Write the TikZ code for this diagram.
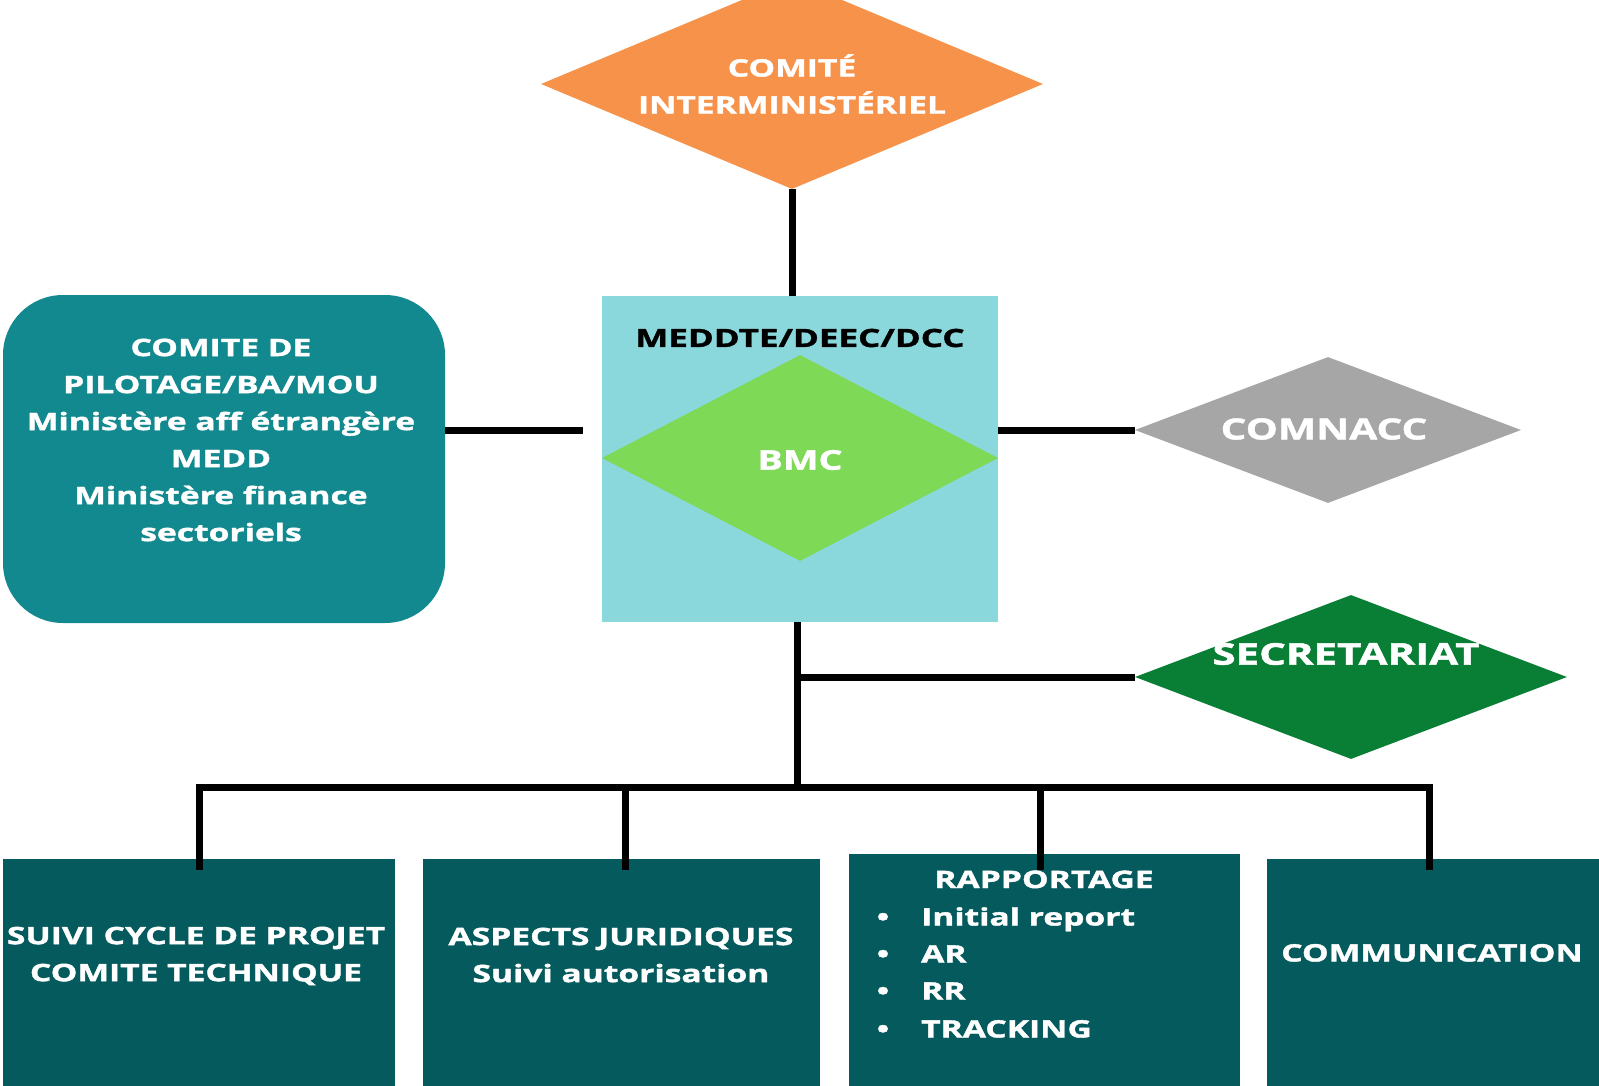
\documentclass[tikz,border=0pt]{standalone}
\usepackage{fontspec}
\setmainfont{Open Sans}[FakeStretch=1.4, BoldFeatures={FakeBold=1.6}]
\usetikzlibrary{shapes.geometric}
\definecolor{corange}{HTML}{F7924A}
\definecolor{clblue}{HTML}{8AD8DC}
\definecolor{clgreen}{HTML}{7ED957}
\definecolor{cteal}{HTML}{12898E}
\definecolor{cgray}{HTML}{A6A6A6}
\definecolor{cdgreen}{HTML}{087F35}
\definecolor{cdteal}{HTML}{045A5C}
\begin{document}
\begin{tikzpicture}[x=1pt,y=-1pt,
  conn/.style={line width=7pt, black},
  txt/.style={text=white, font=\fontsize{24}{37}\selectfont\bfseries, align=center, inner sep=0pt},
  bigtxt/.style={txt, font=\fontsize{29}{36}\selectfont\bfseries},
  dia/.style={diamond, inner sep=0pt, draw=none, aspect=1},
  boxb/.style={rectangle, inner sep=0pt, draw=none, fill=cdteal, anchor=north west}]
\useasboundingbox (0,0) rectangle (1599,1086);
\clip (0,0) rectangle (1599,1086);
\fill[white] (0,0) rectangle (1599,1086);

% top diamond
\node[dia, fill=corange, minimum width=502pt, minimum height=210pt] (ci) at (792,84) {};
\node[txt] (citxt) at (792,84) {COMITÉ\\INTERMINISTÉRIEL};

% central box
\node[rectangle, fill=clblue, minimum width=396pt, minimum height=326pt, inner sep=0pt] (bb) at (800,459) {};
\node[txt, text=black, font=\fontsize{25}{30}\selectfont\bfseries] (mtxt) at (800,338) {MEDDTE/DEEC/DCC};
\node[dia, fill=clgreen, minimum width=396pt, minimum height=206pt] (bmc) at (800,458) {};
\node[bigtxt, font=\fontsize{27}{30}\selectfont\bfseries] (bmctxt) at (800,460) {BMC};

% left box
\node[rectangle, rounded corners=60pt, fill=cteal, minimum width=442pt, minimum height=328pt, inner sep=0pt] (lb) at (224,459) {};
\node[txt] (lbtxt) at (221,440) {COMITE DE\\PILOTAGE/BA/MOU\\Ministère aff étrangère\\MEDD\\Ministère finance\\sectoriels};

% right diamonds
\node[dia, fill=cgray, minimum width=386pt, minimum height=146pt] (cm) at (1328,430) {};
\node[bigtxt] (cmtxt) at (1324,429) {COMNACC};
\node[dia, fill=cdgreen, minimum width=432pt, minimum height=164pt] (sec) at (1351,677) {};
\node[bigtxt, font=\fontsize{30}{36}\selectfont\bfseries] (sectxt) at (1346,654) {SECRETARIAT};

% bottom boxes
\node[boxb, minimum width=392pt, minimum height=240pt] (b1) at (3,859) {};
\node[boxb, minimum width=397pt, minimum height=240pt] (b2) at (423,859) {};
\node[boxb, minimum width=391pt, minimum height=245pt] (b3) at (849,854) {};
\node[boxb, minimum width=340pt, minimum height=240pt] (b4) at (1267,859) {};

\node[txt] (b1txt) at (196,956) {SUIVI CYCLE DE PROJET\\COMITE TECHNIQUE};
\node[txt] (b2txt) at (621,955) {ASPECTS JURIDIQUES\\Suivi autorisation};
\node[txt, anchor=base] (b3t) at (1044,888) {RAPPORTAGE};
\foreach \yy/\tt [count=\i] in {917/Initial report,954/AR,991/RR,1029/TRACKING}{
  \node[txt, anchor=base] (bul\i) at (883,\yy+8.5) {\textbullet};
  \node[txt, anchor=base west] (it\i) at (921,\yy+8.5) {\tt};
}
\node[txt, anchor=base] (b4txt) at (1432,961.5) {COMMUNICATION};

% connectors
\coordinate (lj) at (583,430);
\draw[conn] (lb.east |- lj) -- (lj);
\draw[conn] (bb.east |- cm.west) -- (cm.west);
\draw[conn] (ci.south) -- (ci.south |- bb.north);
\coordinate (jn) at (797,677);
\coordinate (bus) at (797,787);
\draw[conn] (jn |- bb.south) -- (bus);
\draw[conn] (jn) -- (sec.west);
\coordinate (d1) at (199,870);
\coordinate (d2) at (625,870);
\coordinate (d3) at (1040,870);
\coordinate (d4) at (1429,870);
\draw[conn] (d1) |- (bus) -| (d4);
\draw[conn] (d2 |- bus) -- (d2);
\draw[conn] (d3 |- bus) -- (d3);
\end{tikzpicture}
\end{document}
